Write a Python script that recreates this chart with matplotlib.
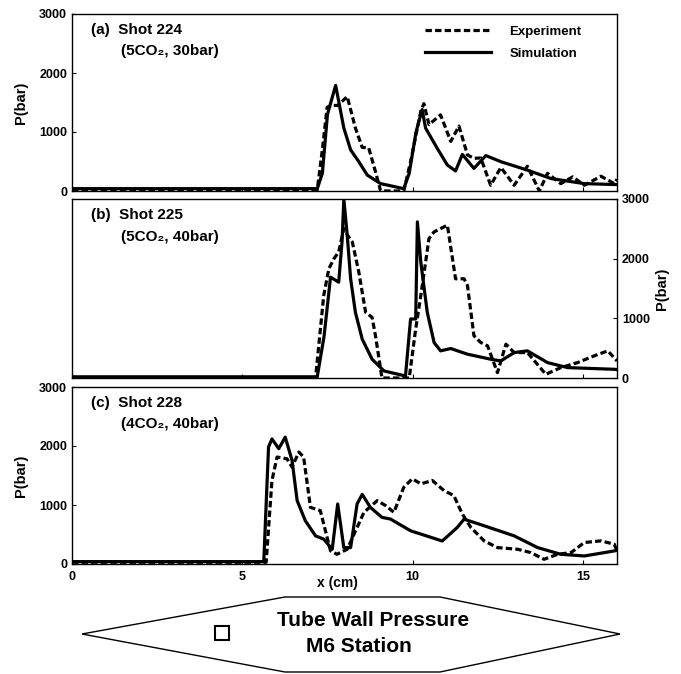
import matplotlib
matplotlib.use("Agg")
import matplotlib.pyplot as plt
from matplotlib.patches import Polygon, Rectangle

plt.rcParams['font.family'] = ['Liberation Sans', 'DejaVu Sans']
plt.rcParams['font.weight'] = 'bold'

# ---------------- data (x in cm, P in bar) ----------------
a_sim_x = [0, 7.2, 7.35, 7.5, 7.74, 7.98, 8.18, 8.42, 8.67, 9.06, 9.74, 9.9, 10.1, 10.28,
           10.38, 10.72, 11.02, 11.26, 11.46, 11.8, 12.15, 12.59, 13.37, 14.06, 15.04, 15.92, 16.0]
a_sim_y = [40, 40, 300, 1300, 1790, 1068, 697, 497, 269, 125, 40, 300, 1000, 1380,
           1068, 725, 440, 340, 620, 383, 600, 497, 354, 211, 125, 110, 110]

a_exp_x = [0, 7.2, 7.35, 7.49, 7.62, 7.8, 8.08, 8.32, 8.52, 8.71, 8.91, 9.06, 9.74, 9.94,
           10.24, 10.33, 10.48, 10.82, 11.12, 11.36, 11.61, 11.8, 12.0, 12.29, 12.59, 12.98,
           13.37, 13.72, 13.96, 14.35, 14.7, 15.04, 15.53, 15.92, 16.0]
a_exp_y = [20, 20, 700, 1420, 1450, 1450, 1600, 1068, 740, 730, 326, 0, 0, 497,
           1354, 1480, 1126, 1290, 840, 1100, 611, 554, 560, 97, 400, 97,
           420, 0, 300, 125, 240, 97, 250, 125, 200]

b_sim_x = [0, 7.2, 7.4, 7.59, 7.83, 7.93, 7.98, 8.08, 8.18, 8.32, 8.52, 8.81, 9.16, 9.79,
           9.94, 10.09, 10.14, 10.24, 10.43, 10.63, 10.82, 11.12, 11.61, 12.29, 12.59,
           12.98, 13.37, 13.96, 14.55, 15.92, 16.0]
b_sim_y = [20, 20, 700, 1690, 1606, 2300, 3000, 2393, 1663, 1100, 652, 315, 118, 34,
           989, 989, 2617, 1943, 1100, 595, 455, 494, 399, 315, 286,
           426, 455, 258, 174, 146, 140]

b_exp_x = [0, 7.15, 7.39, 7.54, 7.69, 7.83, 7.98, 8.08, 8.23, 8.42, 8.62, 8.81, 8.91, 9.1,
           9.9, 10.09, 10.24, 10.48, 10.63, 11.02, 11.26, 11.51, 11.61, 11.8, 12.0, 12.2,
           12.49, 12.74, 12.98, 13.37, 13.91, 14.35, 14.84, 15.33, 15.73, 16.0]
b_exp_y = [0, 0, 1382, 1831, 2000, 2112, 2505, 2400, 2280, 1775, 1100, 1016, 708, 0,
           0, 821, 1382, 2337, 2449, 2561, 1663, 1663, 1550, 708, 595, 539,
           90, 567, 426, 426, 62, 174, 258, 371, 455, 286]

c_sim_x = [0, 5.63, 5.77, 5.87, 6.07, 6.26, 6.46, 6.61, 6.85, 7.15, 7.39, 7.64, 7.8, 7.98,
           8.18, 8.37, 8.52, 8.76, 9.1, 9.35, 9.94, 10.87, 11.31, 11.51, 12.1, 12.98,
           13.67, 14.35, 15.04, 15.63, 16.0]
c_sim_y = [40, 40, 1983, 2120, 1955, 2150, 1756, 1074, 733, 477, 421, 250, 1018, 278,
           278, 1018, 1180, 960, 790, 762, 563, 390, 619, 760, 648, 477,
           278, 165, 136, 193, 230]

c_exp_x = [0, 5.7, 5.87, 6.02, 6.31, 6.46, 6.66, 6.8, 7.0, 7.29, 7.59, 7.78, 8.08, 8.37,
           8.57, 8.96, 9.21, 9.45, 9.74, 9.99, 10.24, 10.58, 10.92, 11.21, 11.46, 11.71,
           12.1, 12.49, 13.08, 13.47, 13.86, 14.26, 14.65, 15.04, 15.53, 15.92, 16.0]
c_exp_y = [30, 30, 1415, 1813, 1784, 1642, 1898, 1813, 960, 904, 222, 165, 250, 619,
           875, 1074, 989, 875, 1301, 1444, 1359, 1415, 1245, 1159, 847, 619,
           392, 278, 250, 193, 80, 165, 193, 364, 392, 335, 222]

y_ticks = [0, 1000, 2000, 3000]
x_ticks = [0, 5, 10, 15]
panel_titles = ["(a)  Shot 224", "(b)  Shot 225", "(c)  Shot 228"]
panel_subs = ["(5CO\u2082, 30bar)", "(5CO\u2082, 40bar)", "(4CO\u2082, 40bar)"]
legend_labels = ["Experiment", "Simulation"]

W, H = 681, 674
fig = plt.figure(figsize=(W / 100, H / 100), dpi=100)

def fx(px):
    return px / W

def fy(py):
    return 1 - py / H

left, right = 72, 617
panels = [(14, 191), (199, 378), (387, 564)]
data = [(a_exp_x, a_exp_y, a_sim_x, a_sim_y),
        (b_exp_x, b_exp_y, b_sim_x, b_sim_y),
        (c_exp_x, c_exp_y, c_sim_x, c_sim_y)]

lw = 2.3
for i, ((top, bot), (ex, ey, sx, sy)) in enumerate(zip(panels, data)):
    ax = fig.add_axes([fx(left), fy(bot), fx(right) - fx(left), fy(top) - fy(bot)])
    l1, = ax.plot(ex, ey, color='black', lw=lw, ls=(0, (2.0, 1.0)))
    l2, = ax.plot(sx, sy, color='black', lw=lw, ls='-')
    ax.set_xlim(0, 16)
    ax.set_ylim(0, 3000)
    for s in ax.spines.values():
        s.set_linewidth(1.0)
    ax.set_xticks(x_ticks)
    ax.set_yticks(y_ticks)
    ax.tick_params(direction='in', length=3, width=0.8, labelsize=9)
    ax.tick_params(axis='x', pad=5)
    if i == 1:
        ax.yaxis.tick_right()
        ax.yaxis.set_label_position('right')
        ax.tick_params(axis='y', left=False, right=True)
        ax.set_ylabel("P(bar)", fontsize=10.5, fontweight='bold', labelpad=4)
    else:
        ax.tick_params(axis='y', left=True, right=False)
        ax.set_ylabel("P(bar)", fontsize=10.5, fontweight='bold', labelpad=8)
    if i < 2:
        ax.tick_params(axis='x', labelbottom=False)
    else:
        ax.set_xlabel("x (cm)", fontsize=10, fontweight='bold')
        ax.xaxis.set_label_coords((337 - left) / (right - left), -0.065)
    for lab in ax.get_xticklabels() + ax.get_yticklabels():
        lab.set_fontweight('bold')
    ax.text(0.035, 0.91, panel_titles[i], transform=ax.transAxes, fontsize=11,
            fontweight='bold', va='center', ha='left')
    ax.text(0.09, 0.79, panel_subs[i], transform=ax.transAxes, fontsize=11,
            fontweight='bold', va='center', ha='left')
    if i == 0:
        ax.legend([l1, l2], legend_labels, loc='upper right', frameon=False,
                  handlelength=5.0, handletextpad=1.4, labelspacing=0.75,
                  bbox_to_anchor=(0.945, 0.965), borderaxespad=0.0,
                  prop={'weight': 'bold', 'size': 9.5})

# hexagon annotation box
hex_pts = [(82, 634), (285, 597), (440, 597), (620, 634), (440, 672), (285, 672)]
fig.patches.append(Polygon([(fx(x), fy(y)) for x, y in hex_pts], closed=True,
                           transform=fig.transFigure, fill=False, ec='black', lw=1.0))
fig.patches.append(Rectangle((fx(215), fy(640)), fx(14), 14 / H, transform=fig.transFigure,
                             fill=False, ec='black', lw=1.5))
fig.text(fx(373), fy(621), "Tube Wall Pressure", ha='center', va='center',
         fontsize=15, fontweight='bold')
fig.text(fx(359), fy(646), "M6 Station", ha='center', va='center',
         fontsize=15, fontweight='bold')

fig.savefig("out.png", dpi=100)
